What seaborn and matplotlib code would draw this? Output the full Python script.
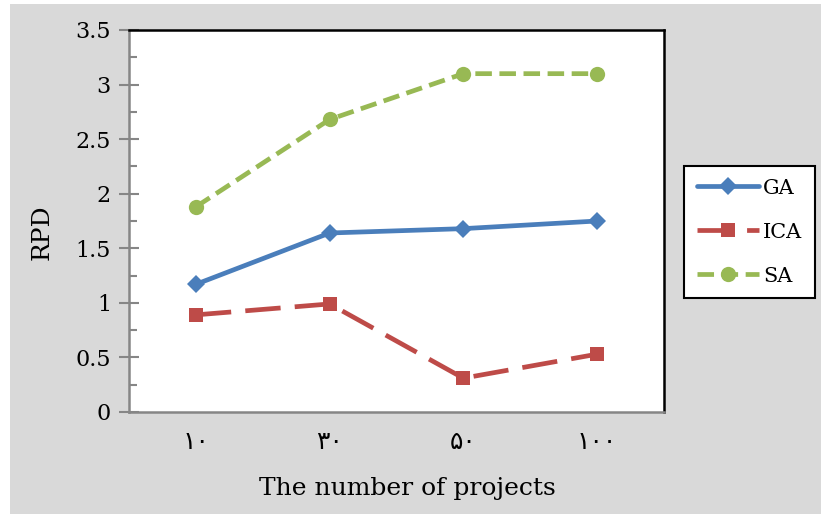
import matplotlib
matplotlib.use("Agg")
import matplotlib.pyplot as plt
import seaborn as sns
import pandas as pd
from matplotlib.patches import Rectangle
from matplotlib.ticker import MultipleLocator, FixedLocator, NullFormatter, FixedFormatter

# Data
categories = ["۱۰", "۳۰", "۵۰", "۱۰۰"]
ga = [1.17, 1.64, 1.68, 1.75]
ica = [0.89, 0.99, 0.31, 0.53]
sa = [1.88, 2.68, 3.10, 3.10]
series_names = ["GA", "ICA", "SA"]

df = pd.DataFrame({
    "pos": list(range(len(categories))) * 3,
    "RPD": ga + ica + sa,
    "alg": [n for n in series_names for _ in categories],
})

sns.set_theme(style="white")
plt.rcParams["font.family"] = ["DejaVu Serif", "DejaVu Sans"]
plt.rcParams["text.color"] = "black"
plt.rcParams["axes.labelcolor"] = "black"
plt.rcParams["xtick.color"] = "black"
plt.rcParams["ytick.color"] = "black"

fig = plt.figure(figsize=(8.21, 5.15), dpi=100, facecolor="white")
# grey chart frame behind everything
fig.patches.append(Rectangle((10 / 821, 1 / 515), 811 / 821, 510 / 515,
                             transform=fig.transFigure, facecolor="#d9d9d9",
                             edgecolor="none", zorder=-10))

ax = fig.add_axes([129 / 821, (515 - 412) / 515, (664 - 129) / 821, (412 - 30) / 515])
ax.set_facecolor("white")

palette = {"GA": "#4a7ebb", "ICA": "#be4b48", "SA": "#98b954"}
markers = {"GA": "D", "ICA": "s", "SA": "o"}
dashes = {"GA": "", "ICA": (7.5, 3), "SA": (3.5, 1.6)}

sns.lineplot(data=df, x="pos", y="RPD", hue="alg", style="alg",
             palette=palette, markers=markers, dashes=dashes,
             linewidth=3.4, markersize=10, markeredgewidth=0,
             ax=ax, legend=False)
for line, ms in zip(ax.lines, [9, 10, 11]):
    line.set_markersize(ms)

ax.set_xlim(-0.5, 3.5)
ax.set_ylim(0, 3.5)

# x axis: ticks between categories, labels centred on categories
ax.xaxis.set_major_locator(FixedLocator([-0.5, 0.5, 1.5, 2.5, 3.5]))
ax.xaxis.set_major_formatter(NullFormatter())
ax.xaxis.set_minor_locator(FixedLocator([0, 1, 2, 3]))
ax.xaxis.set_minor_formatter(FixedFormatter(categories))
ax.tick_params(axis="x", which="major", direction="inout", length=16,
               width=1.5, color="#868686")
ax.tick_params(axis="x", which="minor", length=0, pad=13, labelsize=18,
               labelcolor="black")
for lbl in ax.xaxis.get_minorticklabels():
    lbl.set_family(["DejaVu Sans"])

# y axis
ax.set_yticks([0, 0.5, 1, 1.5, 2, 2.5, 3, 3.5])
ax.set_yticklabels(["0", "0.5", "1", "1.5", "2", "2.5", "3", "3.5"])
ax.yaxis.set_minor_locator(MultipleLocator(0.25))
ax.tick_params(axis="y", which="major", direction="inout", length=14,
               width=1.5, color="#868686", labelsize=16, pad=6, left=True,
               labelcolor="black")
ax.tick_params(axis="y", which="minor", direction="in", length=6,
               width=1.5, color="#868686", left=True)

for side in ["top", "right"]:
    ax.spines[side].set_color("black")
    ax.spines[side].set_linewidth(1.8)
for side in ["left", "bottom"]:
    ax.spines[side].set_color("#868686")
    ax.spines[side].set_linewidth(1.8)

ax.set_xlabel("The number of projects", fontsize=18, color="black")
ax.xaxis.set_label_coords(0.521, -0.17)
ax.set_ylabel("RPD", fontsize=18, color="black")
ax.yaxis.set_label_coords(-0.14, 0.47)

handles = ax.lines[:3]
leg = fig.legend(handles, series_names, loc="upper left",
                 bbox_to_anchor=(684 / 821, 1 - 166 / 515),
                 bbox_transform=fig.transFigure, frameon=True, fancybox=False,
                 framealpha=1, fontsize=15, handlelength=3.0, handletextpad=0.2,
                 borderpad=0.6, labelspacing=1.2, borderaxespad=0)
leg.get_frame().set_edgecolor("black")
leg.get_frame().set_linewidth(1.5)
leg.get_frame().set_facecolor("white")
for t in leg.get_texts():
    t.set_color("black")

fig.savefig("out.png", dpi=100, facecolor=fig.get_facecolor())
